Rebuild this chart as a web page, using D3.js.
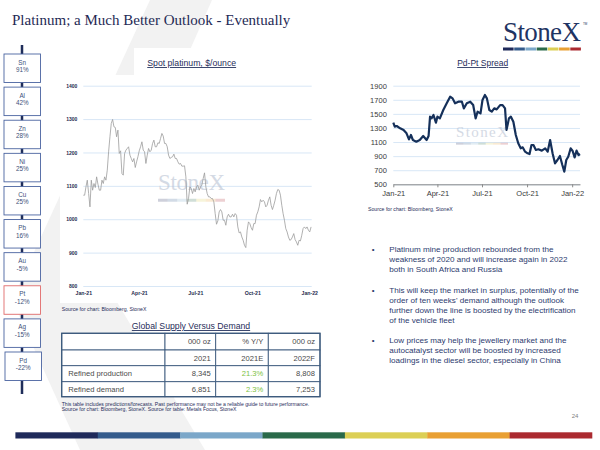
<!DOCTYPE html>
<html>
<head>
<meta charset="utf-8">
<script src="https://cdn.jsdelivr.net/npm/d3@7"></script>
<style>
body { margin: 0; background: #fff; }
text { font-family: "Liberation Sans", Arial, sans-serif; }
</style>
</head>
<body>
<div id="slide"></div>
<script>
// sidebar metals, YTD change
var metals = ["Sn", "Al", "Zn", "Ni", "Cu", "Pb", "Au", "Pt", "Ag", "Pd"];
var metalChanges = ["91%", "42%", "28%", "25%", "25%", "16%", "-5%", "-12%", "-15%", "-22%"];
var highlightMetal = "Pt";

// spot platinum, evenly sampled between start and end
var ptStart = "2021-01-01", ptEnd = "2022-01-04";
var ptValues = [
	1072,1072,1097,1117,1077,1037,1117,1087,1107,1095,
	1127,1105,1087,1087,1117,1107,1127,1117,1147,1202,
	1247,1287,1299,1277,1275,1247,1267,1197,1205,1137,
	1132,1197,1207,1212,1217,1192,1182,1172,1182,1155,
	1172,1187,1205,1217,1232,1207,1202,1167,1192,1212,
	1202,1207,1227,1237,1217,1217,1229,1227,1242,1257,
	1249,1227,1227,1217,1192,1182,1185,1187,1195,1182,
	1182,1172,1165,1167,1159,1159,1160,1127,
	1045,1062,1097,1092,1077,1092,1082,1097,1102,1087,
	1097,1102,1122,1139,1097,1077,1067,1067,1062,1062,
	1052,1017,985,995,1022,1029,1022,997,997,982,
	1007,1015,1007,1007,1015,1007,1017,1012,977,959,
	962,947,937,922,915,967,992,987,975,967,
	987,987,1012,1022,1037,1059,1052,1057,1052,1037,
	1042,1057,1067,1042,1029,1042,1057,1077,1089,1087,
	1072,1042,1017,997,972,962,947,937,939,947,
	957,939,932,922,937,935,952,972,977,972,
	977,967,962,977
];
var ptTicks = [800, 900, 1000, 1100, 1200, 1300, 1400];

// Pd-Pt spread
var spreadDates = [
	"2021-01-01","2021-01-04","2021-01-08","2021-01-15","2021-01-22","2021-01-28","2021-02-02","2021-02-06",
	"2021-02-10","2021-02-17","2021-02-24","2021-03-03","2021-03-10","2021-03-14","2021-03-17","2021-03-20",
	"2021-03-24","2021-03-29","2021-04-01","2021-04-06","2021-04-13","2021-04-20","2021-04-27","2021-05-02",
	"2021-05-07","2021-05-14","2021-05-21","2021-05-25","2021-05-31","2021-06-07","2021-06-13","2021-06-18",
	"2021-06-22","2021-06-28","2021-07-02","2021-07-07","2021-07-11","2021-07-16","2021-07-21","2021-07-26",
	"2021-07-31","2021-08-07","2021-08-12","2021-08-17","2021-08-20","2021-08-25","2021-08-29","2021-09-03",
	"2021-09-08","2021-09-13","2021-09-18","2021-09-22","2021-09-27","2021-10-02","2021-10-06","2021-10-10",
	"2021-10-14","2021-10-19","2021-10-24","2021-10-31","2021-11-07","2021-11-12","2021-11-17","2021-11-22",
	"2021-11-27","2021-12-02","2021-12-07","2021-12-12","2021-12-16","2021-12-20","2021-12-24","2021-12-29",
	"2022-01-02","2022-01-06","2022-01-10","2022-01-14","2022-01-17"
];
var spreadValues = [
	1375,1318,1328,1295,1270,1224,1138,1200,
	1129,1105,1129,1186,1129,1186,1460,1436,
	1484,1375,1460,1436,1555,1650,1744,1720,
	1650,1673,1673,1578,1650,1673,1625,1436,
	1531,1507,1697,1768,1720,1555,1531,1578,
	1564,1625,1625,1578,1271,1436,1460,1389,
	1200,1082,1011,1025,963,940,930,1058,
	1058,987,997,978,1011,963,1129,940,
	798,845,902,774,680,845,892,1011,
	973,883,978,916,930
];
var spreadTicks = [500, 700, 900, 1100, 1300, 1500, 1700, 1900];

var quarterTicks = ["2021-01-01", "2021-04-01", "2021-07-01", "2021-10-01", "2022-01-01"];

// supply / demand table
var tableHead1 = ["", "000 oz", "% Y/Y", "000 oz"];
var tableHead2 = ["", "2021", "2021E", "2022F"];
var tableRows = ["Refined production", "Refined demand"];
var tableValues = [["8,345", "21.3%", "8,808"], ["6,851", "2.3%", "7,253"]];

var bullets = [
	["Platinum mine production rebounded from the", "weakness of 2020 and will increase again in 2022", "both in South Africa and Russia"],
	["This will keep the market in surplus, potentially of the", "order of ten weeks' demand although the outlook", "further down the line is boosted by the electrification", "of the vehicle fleet"],
	["Low prices may help the jewellery market and the", "autocatalyst sector will be boosted by increased", "loadings in the diesel sector, especially in China"]
];

var brandColors = ["#1f2a5a", "#345b8b", "#7ba7c9", "#2a6a4a", "#dccf55", "#e9a033", "#ab2a30"];

var parse = d3.timeParse("%Y-%m-%d");
var navy = "#1f2d5a";

var svg = d3.select("#slide").append("svg")
	.attr("width", 600)
	.attr("height", 450);

//background chevron
svg.append("polygon")
	.attr("points", "150,0 212,0 95,265 205,450 80,450 12,300")
	.attr("fill", "#f2f2f2");

//Title
svg.append("text")
	.attr("x", 12).attr("y", 25)
	.style("font-family", "'Liberation Serif', 'Times New Roman', serif")
	.attr("font-size", 15)
	.attr("fill", "#1f2a55")
	.text("Platinum; a Much Better Outlook - Eventually");

//Logo
var logo = svg.append("g").attr("transform", "translate(503,0)");
logo.append("text")
	.attr("x", 39).attr("y", 41)
	.attr("text-anchor", "middle")
	.style("font-family", "'Liberation Serif', 'Times New Roman', serif")
	.attr("font-size", 27)
	.attr("fill", "#1f3463")
	.attr("textLength", 78)
	.text("StoneX");
logo.append("text").attr("x", 80).attr("y", 25).attr("font-size", 3).attr("fill", "#1f3463").text("TM");
var logoBar = d3.scaleBand().domain(d3.range(brandColors.length)).range([0, 78.5]);
logo.selectAll(".lb").data(brandColors).enter().append("rect")
	.attr("x", function(d, i) { return logoBar(i); })
	.attr("y", 47.5)
	.attr("width", logoBar.bandwidth() - 0.6)
	.attr("height", 3)
	.attr("fill", function(d) { return d; });

//Sidebar
svg.append("line")
	.attr("x1", 22).attr("x2", 22).attr("y1", 45).attr("y2", 394)
	.attr("stroke", navy).attr("stroke-width", 2.5);
var sy = d3.scaleLinear().domain([0, metals.length - 1]).range([54, 352]);
var box = svg.selectAll(".metal").data(metals).enter().append("g")
	.attr("transform", function(d, i) { return "translate(" + (i == metals.length - 1 ? 5 : 4) + "," + sy(i) + ")"; });
box.append("rect")
	.attr("width", 36.5).attr("height", 28.5)
	.attr("fill", "#fff")
	.attr("stroke", function(d) { return d == highlightMetal ? "#e06a6a" : "#4a64a0"; })
	.attr("stroke-width", 0.9);
box.append("text")
	.attr("x", 18.2).attr("y", 10.5)
	.attr("text-anchor", "middle").attr("font-size", 6.3).attr("fill", "#3d4f7a")
	.text(function(d) { return d; });
box.append("text")
	.attr("x", 18.2).attr("y", 18)
	.attr("text-anchor", "middle").attr("font-size", 6.3).attr("fill", "#3d4f7a")
	.text(function(d, i) { return metalChanges[i]; });

//Watermark helper
var watermark = function(g, cx, cy, size, w) {
	g.append("text")
		.attr("x", cx).attr("y", cy)
		.attr("text-anchor", "middle")
		.style("font-family", "'Liberation Serif', 'Times New Roman', serif")
		.attr("font-size", size)
		.attr("textLength", w)
		.attr("fill", "#b9c3d3")
		.attr("opacity", 0.6)
		.text("StoneX");
	var wb = d3.scaleBand().domain(d3.range(brandColors.length)).range([cx - w / 2, cx + w / 2]);
	g.selectAll(null).data(brandColors).enter().append("rect")
		.attr("x", function(d, i) { return wb(i); })
		.attr("y", cy + size * 0.38)
		.attr("width", wb.bandwidth())
		.attr("height", size * 0.13)
		.attr("fill", function(d) { return d; })
		.attr("opacity", 0.22);
};

//Spot platinum chart
svg.append("rect").attr("x", 60).attr("y", 75).attr("width", 270).attr("height", 228).attr("fill", "#fff");
svg.append("rect").attr("x", 134).attr("y", 48).attr("width", 196).attr("height", 30).attr("fill", "#fff");

var left = svg.append("g");
var lx = d3.scaleTime().domain([parse("2021-01-01"), parse("2022-01-05")]).range([83.3, 311.7]);
var ly = d3.scaleLinear().domain([800, 1400]).range([286, 85.7]);

left.append("text")
	.attr("x", 191.7).attr("y", 66)
	.attr("text-anchor", "middle").attr("font-size", 8.7).attr("fill", navy)
	.style("text-decoration", "underline")
	.text("Spot platinum, $/ounce");

var lyAxis = left.append("g")
	.attr("transform", "translate(83.3,0)")
	.call(d3.axisLeft(ly).tickValues(ptTicks).tickSize(-(311.7 - 83.3)).tickPadding(6).tickFormat(d3.format("d")));
lyAxis.select(".domain").remove();
lyAxis.selectAll("line").attr("stroke", "#d8e7f6").attr("stroke-width", 1);
lyAxis.selectAll("text").attr("font-size", 5).attr("font-weight", "bold").attr("fill", "#1f2d4f")
	.style("font-family", "'Liberation Sans', Arial, sans-serif");

var lxAxis = left.append("g")
	.attr("transform", "translate(0,286)")
	.call(d3.axisBottom(lx).tickValues(quarterTicks.map(parse)).tickSize(0).tickPadding(5).tickFormat(d3.timeFormat("%b-%y")));
lxAxis.select(".domain").remove();
lxAxis.selectAll("text").attr("font-size", 5.2).attr("font-weight", "bold").attr("fill", "#1f2d4f")
	.style("font-family", "'Liberation Sans', Arial, sans-serif");

watermark(left, 191.5, 190, 23, 67);

var t0 = parse(ptStart).getTime(), t1 = parse(ptEnd).getTime();
var ptData = ptValues.map(function(v, i) {
	return { date: new Date(t0 + (t1 - t0) * i / (ptValues.length - 1)), value: v };
});
left.append("path")
	.datum(ptData)
	.attr("fill", "none")
	.attr("stroke", "#9c9c9c")
	.attr("stroke-width", 0.8)
	.attr("d", d3.line().x(function(d) { return lx(d.date); }).y(function(d) { return ly(d.value); }));

left.append("text")
	.attr("x", 61.7).attr("y", 310.5)
	.attr("font-size", 5.2).attr("fill", navy)
	.text("Source for chart: Bloomberg, StoneX");

//Pd-Pt spread chart
var right = svg.append("g");
var rx = d3.scaleTime().domain([parse("2021-01-01"), parse("2022-01-17")]).range([393.3, 580]);
var ry = d3.scaleLinear().domain([500, 1900]).range([184.3, 85.7]);

right.append("text")
	.attr("x", 482.7).attr("y", 66)
	.attr("text-anchor", "middle").attr("font-size", 8.5).attr("fill", navy)
	.style("text-decoration", "underline")
	.text("Pd-Pt Spread");

var ryAxis = right.append("g")
	.attr("transform", "translate(393.3,0)")
	.call(d3.axisLeft(ry).tickValues(spreadTicks).tickSize(-(580 - 393.3)).tickPadding(6.5).tickFormat(d3.format("d")));
ryAxis.select(".domain").remove();
ryAxis.selectAll("line").attr("stroke", "#d8e7f6").attr("stroke-width", 1);
ryAxis.selectAll("text").attr("font-size", 7.5).attr("fill", "#3a3a3a")
	.style("font-family", "'Liberation Sans', Arial, sans-serif");

var rxAxis = right.append("g")
	.attr("transform", "translate(0,184.3)")
	.call(d3.axisBottom(rx).tickValues(quarterTicks.map(parse)).tickSizeInner(3).tickSizeOuter(0).tickPadding(3).tickFormat(d3.timeFormat("%b-%y")));
rxAxis.select(".domain").attr("stroke", "#8a8a8a");
rxAxis.selectAll("line").attr("stroke", "#8a8a8a");
rxAxis.selectAll("text").attr("font-size", 7.5).attr("fill", "#3a3a3a")
	.style("font-family", "'Liberation Sans', Arial, sans-serif");

watermark(right, 482, 137, 15, 52);

right.append("path")
	.datum(spreadDates.map(function(d, i) { return { date: parse(d), value: spreadValues[i] }; }))
	.attr("fill", "none")
	.attr("stroke", "#15305a")
	.attr("stroke-width", 2.2)
	.attr("stroke-linejoin", "round")
	.attr("d", d3.line().x(function(d) { return rx(d.date); }).y(function(d) { return ry(d.value); }));

right.append("text")
	.attr("x", 368).attr("y", 211)
	.attr("font-size", 5.2).attr("fill", navy)
	.text("Source for chart: Bloomberg, StoneX");

//Bullets
var by = [252, 293, 343];
var bl = svg.selectAll(".bullet").data(bullets).enter().append("g")
	.attr("transform", function(d, i) { return "translate(0," + by[i] + ")"; });
bl.append("text").attr("x", 371.7).attr("y", 0).attr("font-size", 8).attr("fill", "#2d3b6e").text("\u2022");
bl.selectAll(".line").data(function(d) { return d; }).enter().append("text")
	.attr("x", 389.3)
	.attr("y", function(d, i) { return i * 9.9; })
	.attr("font-size", 8.1).attr("fill", "#2d3b6e")
	.text(function(d) { return d; });

//Table
svg.append("text")
	.attr("x", 191).attr("y", 329)
	.attr("text-anchor", "middle").attr("font-size", 8.7).attr("fill", navy)
	.style("text-decoration", "underline")
	.text("Global Supply Versus Demand");

var colEdges = [61.7, 165, 215.7, 268.3, 320];
var rowEdges = [333.3, 350, 365.7, 381.7, 396.7];
var tableData = [tableHead1, tableHead2].concat(tableRows.map(function(r, i) { return [r].concat(tableValues[i]); }));
var table = svg.append("g");
tableData.forEach(function(row, r) {
	row.forEach(function(cell, c) {
		table.append("rect")
			.attr("x", colEdges[c]).attr("y", rowEdges[r])
			.attr("width", colEdges[c + 1] - colEdges[c]).attr("height", rowEdges[r + 1] - rowEdges[r])
			.attr("fill", "#fff").attr("stroke", "#3c5a7d").attr("stroke-width", 0.9);
		table.append("text")
			.attr("x", c == 0 ? colEdges[0] + 6.5 : colEdges[c + 1] - 5)
			.attr("y", (rowEdges[r] + rowEdges[r + 1]) / 2 + 2.7)
			.attr("text-anchor", c == 0 ? "start" : "end")
			.attr("font-size", 7.6)
			.attr("fill", r >= 2 && c == 2 ? "#7dc242" : "#4a4a4a")
			.text(cell);
	});
});
table.append("rect")
	.attr("x", colEdges[0]).attr("y", rowEdges[0])
	.attr("width", colEdges[4] - colEdges[0]).attr("height", rowEdges[4] - rowEdges[0])
	.attr("fill", "none").attr("stroke", "#3c5a7d").attr("stroke-width", 1.3);

svg.append("text").attr("x", 61.7).attr("y", 405.5).attr("font-size", 5.1).attr("fill", navy)
	.text("This table includes predictions/forecasts. Past performance may not be a reliable guide to future performance.");
svg.append("text").attr("x", 61.7).attr("y", 411).attr("font-size", 5.1).attr("fill", navy)
	.text("Source for chart: Bloomberg, StoneX.  Source for table: Metals Focus, StoneX");

//Footer
svg.append("text").attr("x", 575).attr("y", 418).attr("font-size", 6).attr("fill", "#808080").attr("text-anchor", "middle").text("24");
var fb = d3.scaleBand().domain(d3.range(brandColors.length)).range([15.4, 592]);
svg.selectAll(".fb").data(brandColors).enter().append("rect")
	.attr("x", function(d, i) { return fb(i); })
	.attr("y", 432.3)
	.attr("width", fb.bandwidth() + 0.3)
	.attr("height", 6.2)
	.attr("fill", function(d) { return d; });
</script>
</body>
</html>
